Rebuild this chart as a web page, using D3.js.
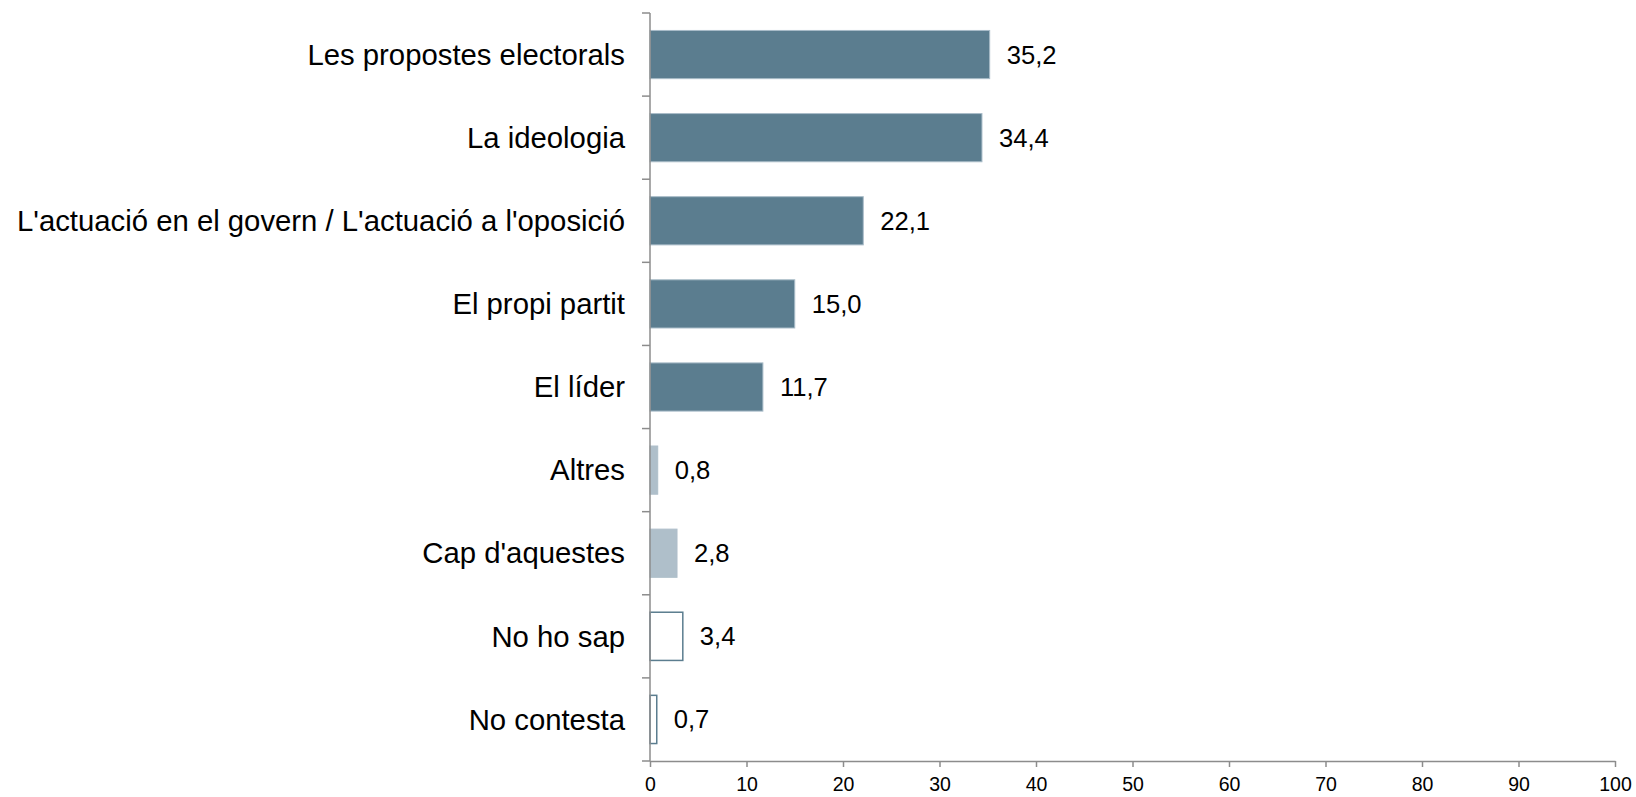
<!DOCTYPE html>
<html><head><meta charset="utf-8">
<script src="https://cdn.jsdelivr.net/npm/d3@7"></script>
<style>body{margin:0;background:#fff}svg{display:block}</style>
</head><body>
<svg id="c" width="1636" height="797"></svg>
<script>
const categories = ["Les propostes electorals","La ideologia","L'actuació en el govern / L'actuació a l'oposició","El propi partit","El líder","Altres","Cap d'aquestes","No ho sap","No contesta"];
const values = [35.2,34.4,22.1,15.0,11.7,0.8,2.8,3.4,0.7];
const groups = ["main","main","main","main","main","other","other","dk","dk"];
const xTicks = [0,10,20,30,40,50,60,70,80,90,100];

const svg = d3.select("#c");
const M = {left:650, right:1615, top:13, bottom:761};
const x = d3.scaleLinear().domain([0,100]).range([M.left, M.right]);
const y = d3.scaleBand().domain(categories).range([M.top, M.bottom]).paddingInner(0.42).paddingOuter(0.21);
const loc = d3.formatLocale({decimal:",", thousands:".", grouping:[3], currency:["","€"]});
const fmt = loc.format(".1f");
const font = "'Liberation Sans', Arial, sans-serif";
const axisColor = "#8c8c8c";

const fillOf = g => g==="main" ? "#5b7d8f" : g==="other" ? "#afbfca" : "#ffffff";
const strokeOf = g => g==="main" ? "#a9bcc8" : g==="other" ? "#afbfca" : "#5b7d8f";

svg.selectAll("rect.bar").data(categories).enter().append("rect")
  .attr("class","bar")
  .attr("x", x(0))
  .attr("y", d => y(d))
  .attr("width", (d,i) => x(values[i]) - x(0))
  .attr("height", y.bandwidth())
  .attr("fill", (d,i) => fillOf(groups[i]))
  .attr("stroke", (d,i) => strokeOf(groups[i]))
  .attr("stroke-width", (d,i) => groups[i]==="dk" ? 1.5 : 1);

svg.selectAll("text.val").data(categories).enter().append("text")
  .attr("class","val")
  .attr("x", (d,i) => x(values[i]) + 17)
  .attr("y", d => y(d) + y.bandwidth()/2)
  .attr("dy","0.35em")
  .attr("font-family", font).attr("font-size", 25.6).attr("fill","#000")
  .text((d,i) => fmt(values[i]));

// category labels
svg.selectAll("text.cat").data(categories).enter().append("text")
  .attr("class","cat")
  .attr("x", M.left - 25)
  .attr("y", d => y(d) + y.bandwidth()/2)
  .attr("dy","0.35em")
  .attr("text-anchor","end")
  .attr("font-family", font).attr("font-size", 29.3).attr("fill","#000")
  .text(d => d);

// y axis with ticks at band boundaries
const bounds = d3.range(categories.length + 1).map(i => M.top + i * (M.bottom - M.top) / categories.length);
const ya = svg.append("g");
ya.append("line").attr("x1",M.left).attr("x2",M.left).attr("y1",M.top).attr("y2",M.bottom)
  .attr("stroke",axisColor).attr("stroke-width",1.5);
ya.selectAll("line.t").data(bounds).enter().append("line")
  .attr("x1",M.left-8).attr("x2",M.left).attr("y1",d=>d).attr("y2",d=>d)
  .attr("stroke",axisColor).attr("stroke-width",1.5);

// x axis
const xa = svg.append("g").attr("transform",`translate(0,${M.bottom})`)
  .call(d3.axisBottom(x).tickValues(xTicks).tickSize(6).tickSizeOuter(0).tickPadding(10).tickFormat(d3.format("d")));
xa.select(".domain").attr("stroke",axisColor).attr("stroke-width",1.5);
xa.selectAll(".tick line").attr("stroke",axisColor).attr("stroke-width",1.5);
xa.selectAll(".tick text").attr("font-family",font).attr("font-size",19.5).attr("fill","#000");
</script>
</body></html>
